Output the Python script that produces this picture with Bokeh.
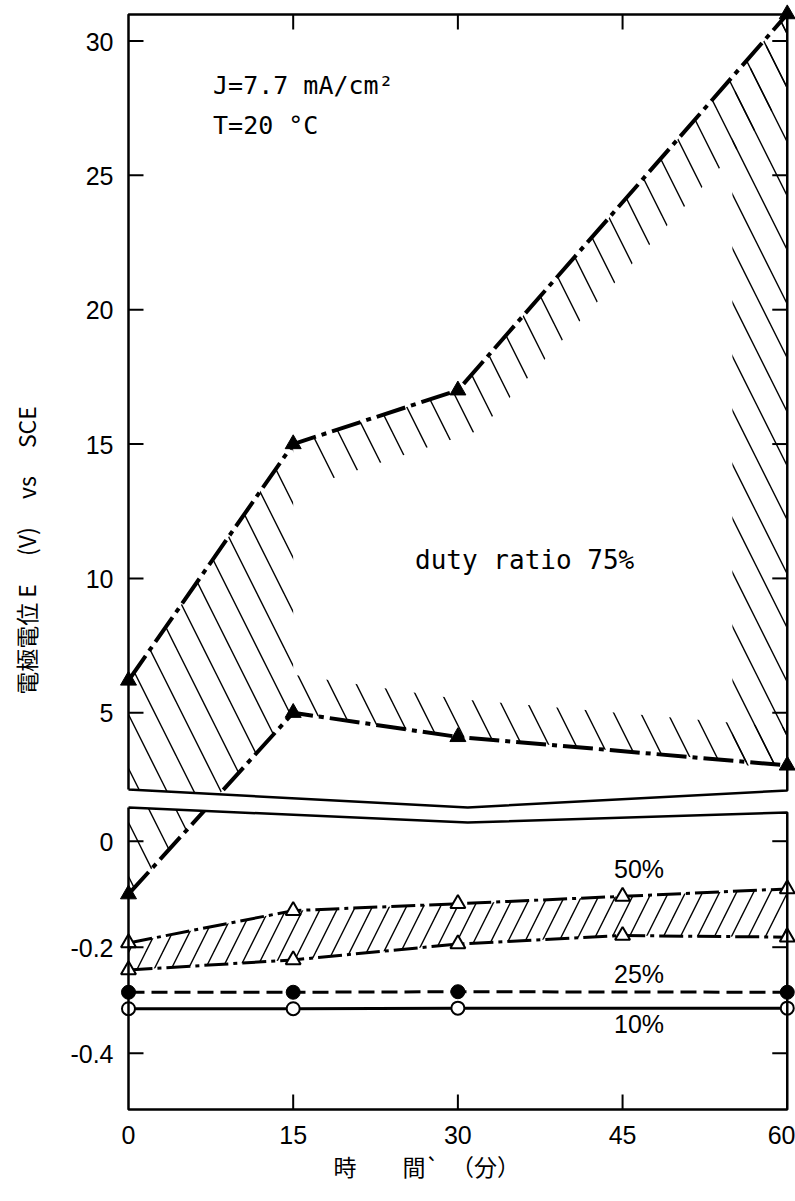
import numpy as np
from bokeh.plotting import figure
from bokeh.models import FixedTicker
from bokeh.core.properties import value
from bokeh.embed import file_html
from bokeh.resources import INLINE

# ---------------- data ----------------
time_75 = [0, 15, 30, 60]
e75_upper = [6.2, 15.0, 17.0, 31.0]
e75_lower = [-0.10, 5.0, 4.1, 3.04]

time_50 = [0, 15, 30, 45, 60]
e50_upper = [-0.192, -0.131, -0.118, -0.104, -0.090]
e50_lower = [-0.243, -0.224, -0.194, -0.178, -0.181]

time_25 = [0, 15, 30, 60]
e25 = [-0.285, -0.285, -0.284, -0.285]

time_10 = [0, 15, 30, 60]
e10 = [-0.316, -0.316, -0.315, -0.315]

series_labels = ["duty ratio 75%", "50%", "25%", "10%"]
conditions = ["J=7.7 mA/cm²", "T=20 °C"]

x_ticks = [0, 15, 30, 45, 60]
y_ticks_upper = [5, 10, 15, 20, 25, 30]
y_labels_upper = ["5", "10", "15", "20", "25", "30"]
y_ticks_lower = [0, -0.2, -0.4]
y_labels_lower = ["0", "-0.2", "-0.4"]

x_title = "時　　間`　（分）"
y_title = "電極電位 E　 (V)　 vs　 SCE"

# ---------------- broken-axis scale ----------------
LOW_K, LOW_B = 530.0, 268.3     # lower panel: px per volt, offset
UP_K, UP_B = 26.87, 262.4       # upper panel
SPLIT = 1.0


def vy(v):
    v = np.asarray(v, dtype=float)
    return np.where(v < SPLIT, LOW_B + LOW_K * v, UP_B + UP_K * v)


X0, X1 = -1.184, 60.75
Y0, Y1 = -12, 1107
FRAME_TOP = 1095.0
PX_PER_MIN = 680.0 / (X1 - X0)
TICK = 15.0

# break outline (layout)
BREAK_X = [0, 30.9, 60]
UPPER_EDGE = [320, 302, 319]
LOWER_EDGE = [302, 287, 297]

p = figure(width=795, height=1200, x_range=(X0, X1), y_range=(Y0, Y1),
           output_backend="svg", toolbar_location=None,
           min_border_left=115, min_border_right=0, min_border_top=2,
           min_border_bottom=79)
p.outline_line_color = None
p.grid.visible = False
p.background_fill_color = "white"

TICK_FONT = "Liberation Sans"
CJK_FONT = "Noto Sans CJK JP"

# x axis
p.xaxis.ticker = FixedTicker(ticks=x_ticks)
p.xaxis.axis_line_color = None
p.xaxis.major_tick_line_color = None
p.xaxis.minor_tick_line_color = None
p.xaxis.major_tick_in = 0
p.xaxis.major_tick_out = 0
p.xaxis.major_label_standoff = 4
p.xaxis.major_label_text_font = TICK_FONT
p.xaxis.major_label_text_font_size = "25px"
p.xaxis.major_label_text_color = "black"
p.xaxis.axis_label = x_title + "　　　"
p.xaxis.axis_label_text_font = CJK_FONT
p.xaxis.axis_label_text_font_style = "normal"
p.xaxis.axis_label_text_font_size = "23px"
p.xaxis.axis_label_text_color = "black"
p.xaxis.axis_label_standoff = 2

# y axis
all_ticks = y_ticks_upper + y_ticks_lower
all_labels = y_labels_upper + y_labels_lower
tick_pos = [int(round(float(vy(t)))) for t in all_ticks]
p.yaxis.ticker = FixedTicker(ticks=tick_pos)
p.yaxis.major_label_overrides = {tp: lab for tp, lab in zip(tick_pos, all_labels)}
p.yaxis.axis_line_color = None
p.yaxis.major_tick_line_color = None
p.yaxis.minor_tick_line_color = None
p.yaxis.major_tick_in = 0
p.yaxis.major_tick_out = 0
p.yaxis.major_label_standoff = 2
p.yaxis.major_label_text_font = TICK_FONT
p.yaxis.major_label_text_font_size = "25px"
p.yaxis.major_label_text_color = "black"
p.yaxis.axis_label = "　" + y_title
p.yaxis.axis_label_text_font = CJK_FONT
p.yaxis.axis_label_text_font_style = "normal"
p.yaxis.axis_label_text_font_size = "23px"
p.yaxis.axis_label_text_color = "black"
p.yaxis.axis_label_standoff = 24

# ---------------- hatching ----------------
u_y = vy(e75_upper)
l_y = vy(e75_lower)
t75 = np.asarray(time_75, float)
H_UP, DX_UP, H_LO, W_R = 40.0, 2.0, 38.0, 5.0
hatch75 = dict(fill_alpha=0, line_alpha=0, hatch_pattern="\\", hatch_scale=54,
               hatch_weight=1.4, hatch_color="black")

# left region (between axis, rising lower curve and upper curve)
p.patch([t75[0], t75[1], t75[1], t75[0]], [l_y[0], l_y[1], u_y[1], u_y[0]], **hatch75)
# band under the upper curve
bx = list(t75[1:]) + [t75[-1]] + list(t75[2:0:-1] + DX_UP)
by = list(u_y[1:]) + [u_y[-1] - 2 * H_UP] + list(u_y[2:0:-1] - H_UP)
p.patch(bx, by, **hatch75)
# band above the lower curve
bx = list(t75[1:]) + list(t75[:0:-1])
by = list(l_y[1:]) + list(l_y[:0:-1] + H_LO)
p.patch(bx, by, **hatch75)
# band along the right edge
slope = (u_y[-1] - u_y[-2]) / (t75[-1] - t75[-2])
p.patch([t75[-1] - W_R, t75[-1], t75[-1], t75[-1] - W_R],
        [l_y[-1], l_y[-1], u_y[-1], u_y[-1] - 1.3 * W_R * slope], **hatch75)

# 50% band
p.patch(list(time_50) + list(time_50[::-1]),
        list(vy(e50_upper)) + list(vy(e50_lower)[::-1]),
        fill_alpha=0, line_alpha=0, hatch_pattern="/", hatch_scale=34,
        hatch_weight=1.4, hatch_color="black")

# ---------------- series ----------------
DASHDOT = "30 6 5 6"
p.line(time_75, vy(e75_upper), line_color="black", line_width=4, line_dash=DASHDOT)
p.line(time_75, vy(e75_lower), line_color="black", line_width=4, line_dash=DASHDOT)
p.line(time_50, vy(e50_upper), line_color="black", line_width=3, line_dash="24 5 4 5")
p.line(time_50, vy(e50_lower), line_color="black", line_width=3, line_dash="24 5 4 5")
p.line(time_25, vy(e25), line_color="black", line_width=3, line_dash="16 7")
p.line(time_10, vy(e10), line_color="black", line_width=3)

p.scatter(time_75, vy(e75_upper), marker="triangle", size=16, fill_color="black", line_color="black")
p.scatter(time_75, vy(e75_lower), marker="triangle", size=16, fill_color="black", line_color="black")
p.scatter(time_50, vy(e50_upper), marker="triangle", size=15, fill_color="white", line_color="black", line_width=2)
p.scatter(time_50, vy(e50_lower), marker="triangle", size=15, fill_color="white", line_color="black", line_width=2)
p.scatter(time_25, vy(e25), marker="circle", size=14, fill_color="black", line_color="black")
p.scatter(time_10, vy(e10), marker="circle", size=13, fill_color="white", line_color="black", line_width=2)

# ---------------- texts ----------------
MONO = value("DejaVu Sans Mono")
p.text([7.7, 7.7], [float(vy(28.35)), float(vy(26.85))], text=conditions,
       text_font=MONO, text_font_size="25px", text_baseline="middle", text_align="left")
p.text([26.1], [float(vy(10.67))], text=[series_labels[0]],
       text_font=MONO, text_font_size="26px", text_baseline="middle", text_align="left")
p.text([46.5, 46.5, 46.5], [float(vy(-0.052)), float(vy(-0.2515)), float(vy(-0.344))],
       text=series_labels[1:], text_font=value(TICK_FONT), text_font_size="25px",
       text_baseline="middle", text_align="center")

# ---------------- axis break & frame ----------------
gx = [BREAK_X[0] - 0.4] + BREAK_X + [BREAK_X[-1] + 0.4]
gx_all = gx + gx[::-1]
gy_all = [UPPER_EDGE[0]] + UPPER_EDGE + [UPPER_EDGE[-1]] + \
         [LOWER_EDGE[-1]] + LOWER_EDGE[::-1] + [LOWER_EDGE[0]]
p.patch(gx_all, gy_all, fill_color="white", line_color=None)

FW = 2.5
p.line([BREAK_X[0], 0, 60, 60] + BREAK_X[::-1][1:],
       [UPPER_EDGE[0], FRAME_TOP, FRAME_TOP, UPPER_EDGE[-1]] + UPPER_EDGE[::-1][1:],
       line_color="black", line_width=FW)
p.line([0, 0, 60, 60] + BREAK_X[::-1][1:],
       [LOWER_EDGE[0], 0, 0, LOWER_EDGE[-1]] + LOWER_EDGE[::-1][1:],
       line_color="black", line_width=FW)

# tick marks (inward)
tl = TICK / PX_PER_MIN
tv = [float(vy(t)) for t in all_ticks]
p.segment([0] * len(tv), tv, [tl] * len(tv), tv, line_color="black", line_width=2)
p.segment([60 - tl] * len(tv), tv, [60] * len(tv), tv, line_color="black", line_width=2)
inner_x = x_ticks[1:-1]
p.segment(inner_x, [0] * len(inner_x), inner_x, [TICK] * len(inner_x), line_color="black", line_width=2)
p.segment(inner_x, [FRAME_TOP] * len(inner_x), inner_x, [FRAME_TOP - TICK] * len(inner_x),
          line_color="black", line_width=2)

open("out.html", "w").write(file_html(p, INLINE))
